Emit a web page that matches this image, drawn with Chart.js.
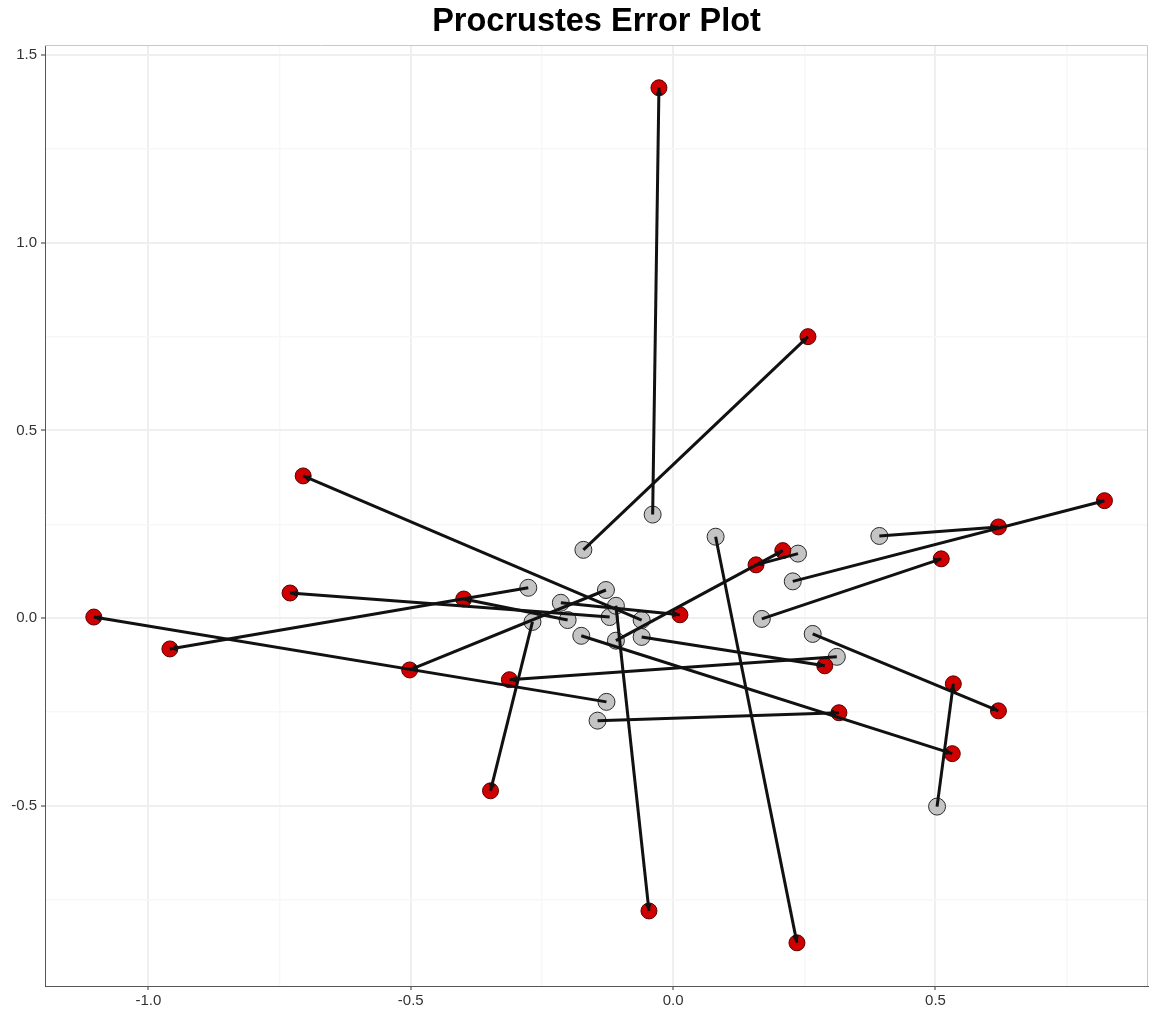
<!DOCTYPE html>
<html>
<head>
<meta charset="utf-8">
<title>Procrustes Error Plot</title>
<script src="https://cdn.jsdelivr.net/npm/chart.js@4/dist/chart.umd.min.js"></script>
<style>
  html, body { margin: 0; padding: 0; background: #fff; }
  #wrap { width: 1151px; height: 1017px; }
</style>
</head>
<body>
<div id="wrap"><canvas id="chart" width="1151" height="1017"></canvas></div>
<script>
// rotated configuration (red) and target configuration (grey), row i pairs with row i
const rotX = [-0.027, 0.257, -0.705, 0.822, 0.620, 0.511, 0.209, 0.158, -0.730, -0.399, 0.013, -1.104,
  -0.959, -0.502, -0.312, 0.289, 0.534, 0.620, 0.316, 0.532, -0.348, -0.046, 0.236];
const rotY = [1.413, 0.750, 0.379, 0.313, 0.243, 0.158, 0.180, 0.142, 0.067, 0.051, 0.009, 0.003,
  -0.082, -0.138, -0.164, -0.127, -0.175, -0.247, -0.252, -0.361, -0.460, -0.780, -0.865];
const tgtX = [-0.039, -0.171, -0.060, 0.228, 0.393, 0.169, -0.109, 0.238, -0.121, -0.201, -0.214, -0.127,
  -0.276, -0.128, 0.312, -0.060, 0.503, 0.266, -0.144, -0.175, -0.268, -0.109, 0.081];
const tgtY = [0.276, 0.182, -0.005, 0.098, 0.219, -0.002, -0.060, 0.172, 0.003, -0.005, 0.041, -0.223,
  0.081, 0.075, -0.103, -0.050, -0.502, -0.042, -0.273, -0.047, -0.010, 0.033, 0.217];

const xTicks = [-1.0, -0.5, 0.0, 0.5];
const yTicks = [-0.5, 0.0, 0.5, 1.0, 1.5];
const xMinor = [-0.75, -0.25, 0.25, 0.75];
const yMinor = [-0.75, -0.25, 0.25, 0.75, 1.25];

const rotPts = rotX.map((x, i) => ({ x: x, y: rotY[i] }));
const tgtPts = tgtX.map((x, i) => ({ x: x, y: tgtY[i] }));

// one two-point line per pair
const segments = rotPts.map((p, i) => ({
  type: "scatter",
  data: [tgtPts[i], p],
  showLine: true,
  borderColor: "#111",
  borderWidth: 3,
  pointRadius: 0,
  order: 0,
}));

const isMajor = (v) => Math.abs(v * 2 - Math.round(v * 2)) < 1e-6;

function gridFor(ticksMajor, ticksMinor) {
  return function (scale) {
    scale.ticks = ticksMajor.concat(ticksMinor).sort((a, b) => a - b).map((v) => ({ value: v }));
  };
}

// panel border on top and right, light grey like the theme
const framePlugin = {
  id: "frame",
  afterDraw(chart) {
    const { ctx, chartArea: a } = chart;
    ctx.save();
    ctx.strokeStyle = "#c8c8c8";
    ctx.lineWidth = 1;
    ctx.beginPath();
    ctx.moveTo(a.left, a.top + 0.5);
    ctx.lineTo(a.right - 0.5, a.top + 0.5);
    ctx.lineTo(a.right - 0.5, a.bottom);
    ctx.stroke();
    ctx.restore();
  },
};

// arrow heads at the rotated end of every segment
const arrowPlugin = {
  id: "arrows",
  afterDatasetsDraw(chart) {
    const { ctx } = chart;
    const xs = chart.scales.x, ys = chart.scales.y;
    ctx.save();
    ctx.fillStyle = "#111";
    rotPts.forEach((p, i) => {
      const x1 = xs.getPixelForValue(tgtPts[i].x), y1 = ys.getPixelForValue(tgtPts[i].y);
      const x2 = xs.getPixelForValue(p.x), y2 = ys.getPixelForValue(p.y);
      const ang = Math.atan2(y2 - y1, x2 - x1);
      const len = 8, half = Math.PI / 7;
      ctx.beginPath();
      ctx.moveTo(x2, y2);
      ctx.lineTo(x2 - len * Math.cos(ang - half), y2 - len * Math.sin(ang - half));
      ctx.lineTo(x2 - len * Math.cos(ang + half), y2 - len * Math.sin(ang + half));
      ctx.closePath();
      ctx.fill();
    });
    ctx.restore();
  },
};

const tickFont = { family: "'Liberation Sans', Arial, sans-serif", size: 15 };

const gridStyle = {
  color: (c) => (isMajor(c.tick.value) ? "#efefef" : "#f7f7f7"),
  lineWidth: (c) => (isMajor(c.tick.value) ? 2 : 1.5),
  tickColor: (c) => (isMajor(c.tick.value) ? "#333" : "rgba(0,0,0,0)"),
  tickLength: 4,
  tickWidth: 1,
};

new Chart(document.getElementById("chart"), {
  type: "scatter",
  data: {
    datasets: [
      ...segments,
      {
        label: "target",
        data: tgtPts,
        pointRadius: 8.5,
        pointBackgroundColor: "#c4c4c4",
        pointBorderColor: "#2a2a2a",
        pointBorderWidth: 1,
        order: 2,
      },
      {
        label: "rotated",
        data: rotPts,
        pointRadius: 8,
        pointBackgroundColor: "#d10000",
        pointBorderColor: "#5a0000",
        pointBorderWidth: 1,
        order: 1,
      },
    ],
  },
  options: {
    responsive: false,
    animation: false,
    layout: { autoPadding: false, padding: { top: 0, right: 3, bottom: 0, left: 0 } },
    plugins: {
      legend: { display: false },
      tooltip: { enabled: false },
      title: {
        display: true,
        fullSize: false,
        text: "Procrustes Error Plot",
        color: "#000",
        font: { family: "'Liberation Sans', Arial, sans-serif", size: 32.5, weight: "bold", lineHeight: 1.2 },
        padding: { top: 3, bottom: 3 },
      },
    },
    scales: {
      x: {
        type: "linear",
        min: -1.197,
        max: 0.905,
        afterBuildTicks: gridFor(xTicks, xMinor),
        afterFit(scale) {
          scale.height = 31;
          scale.paddingLeft = 0;
          scale.paddingRight = 0;
        },
        border: { color: "#555", width: 1 },
        grid: gridStyle,
        ticks: {
          autoSkip: false,
          maxRotation: 0,
          padding: 2,
          color: "#333",
          font: tickFont,
          callback: (v) => (isMajor(v) ? v.toFixed(1) : ""),
        },
      },
      y: {
        type: "linear",
        min: -0.980,
        max: 1.527,
        afterBuildTicks: gridFor(yTicks, yMinor),
        afterFit(scale) { scale.width = 45; },
        border: { color: "#555", width: 1 },
        grid: gridStyle,
        ticks: {
          autoSkip: false,
          padding: 4,
          color: "#333",
          font: tickFont,
          callback: (v) => (isMajor(v) ? v.toFixed(1) : ""),
        },
      },
    },
  },
  plugins: [framePlugin, arrowPlugin],
});
</script>
</body>
</html>
